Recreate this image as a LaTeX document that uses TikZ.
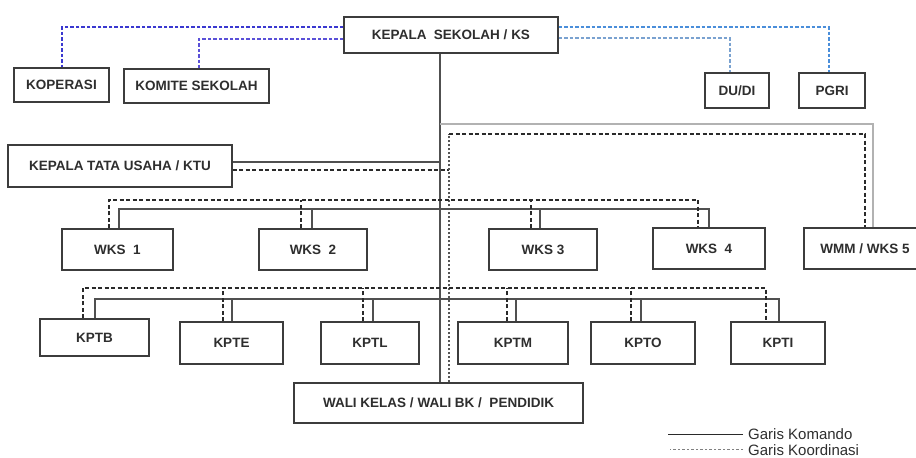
\documentclass[tikz,border=0pt]{standalone}
\usepackage{fontspec}
\setmainfont{Liberation Sans}
\definecolor{boxc}{HTML}{3C3C3C}
\definecolor{txt}{HTML}{2E2E2E}
\definecolor{linec}{HTML}{505050}
\definecolor{dashc}{HTML}{2A2A2A}
\definecolor{kopc}{HTML}{3A38D0}
\definecolor{komc}{HTML}{5A50D8}
\definecolor{rblc}{HTML}{4A8EDA}
\definecolor{rblcb}{HTML}{7AA2D0}
\begin{document}
\begin{tikzpicture}[x=1pt,y=-1pt,
  box/.style={draw=boxc, line width=1.3pt, fill=white, inner sep=0pt,
    font=\fontsize{13.5}{16}\selectfont\bfseries, text=txt},
  cmd/.style={draw=linec, line width=1.2pt},
  crd/.style={draw=dashc, line width=1.2pt, dash pattern=on 4pt off 2.5pt},
  dotl/.style={draw=dashc!80, line width=1.1pt, dash pattern=on 2pt off 2pt},
  bl/.style={line width=1.2pt, dash pattern=on 3.5pt off 2pt},
  legend/.style={inner sep=0pt, font=\fontsize{15}{17}\selectfont, text=txt}]
\useasboundingbox (0,0) rectangle (916,458);
\clip (0,0) rectangle (916,458);
% nodes
\node[box, minimum width=214pt, minimum height=36pt] (ks) at (451,35) {KEPALA\ \ SEKOLAH / KS};
\node[box, minimum width=95pt, minimum height=34pt] (kop) at (61.5,85) {KOPERASI};
\node[box, minimum width=145pt, minimum height=34pt] (kom) at (196.5,86) {KOMITE SEKOLAH};
\node[box, minimum width=64pt, minimum height=35pt] (dudi) at (737,90.5) {DU/DI};
\node[box, minimum width=66pt, minimum height=35pt] (pgri) at (832,90.5) {PGRI};
\node[box, minimum width=224pt, minimum height=42pt] (ktu) at (120,166) {KEPALA TATA USAHA / KTU};
\node[box, minimum width=111pt, minimum height=41pt] (wks1) at (117.5,249.5) {WKS\ \ 1};
\node[box, minimum width=108pt, minimum height=41pt] (wks2) at (313,249.5) {WKS\ \ 2};
\node[box, minimum width=108pt, minimum height=41pt] (wks3) at (543,249.5) {WKS 3};
\node[box, minimum width=112pt, minimum height=41pt] (wks4) at (709,248.5) {WKS\ \ 4};
\node[box, minimum width=130pt, minimum height=41pt, align=left] (wmm) at (869,248.5) {\hspace*{-8pt}WMM / WKS 5};
\node[box, minimum width=109pt, minimum height=37pt] (kptb) at (94.5,337.5) {KPTB};
\node[box, minimum width=103pt, minimum height=42pt] (kpte) at (231.5,343) {KPTE};
\node[box, minimum width=98pt, minimum height=42pt] (kptl) at (370,343) {KPTL};
\node[box, minimum width=110pt, minimum height=42pt] (kptm) at (513,343) {KPTM};
\node[box, minimum width=104pt, minimum height=42pt] (kpto) at (643,343) {KPTO};
\node[box, minimum width=94pt, minimum height=42pt] (kpti) at (778,343) {KPTI};
\node[box, minimum width=289pt, minimum height=40pt] (wali) at (438.5,403) {WALI KELAS / WALI BK /\ \ PENDIDIK};
% junction coordinates
\coordinate (trunk) at ([xshift=-11pt]ks.south);
\coordinate (dot) at (449,134);
\coordinate (sj) at (440,124);
\coordinate (wb) at (0,209);
\coordinate (wd) at (0,200);
\coordinate (kb) at (0,299);
\coordinate (kd) at (0,288);
% coordination lines to outside partners
\draw[bl, draw=kopc] ([yshift=8pt]ks.west) -| ([xshift=0.5pt]kop.north);
\draw[bl, draw=komc] ([yshift=-4pt]ks.west) -| ([xshift=2.5pt]kom.north);
\draw[bl, draw=rblc] ([yshift=8pt]ks.east) -| ([xshift=-3pt]pgri.north);
\draw[bl, draw=rblcb] ([yshift=-3pt]ks.east) -| ([xshift=-7pt]dudi.north);
% trunk
\draw[cmd] (trunk) -- (trunk |- wali.north);
% KTU
\draw[cmd] ([yshift=4pt]ktu.east) -- ([yshift=4pt]ktu.east -| trunk);
\draw[crd] ([yshift=-4pt]ktu.east) -- ([yshift=-4pt]ktu.east -| dot);
% WMM
\draw[cmd, draw=gray!60] (sj) -| ([xshift=4pt]wmm.north);
\draw[dotl] (dot |- wali.north) -- (dot);
\draw[crd] (dot) -| ([xshift=-4pt]wmm.north);
% WKS command bus
\draw[cmd] ([xshift=1.5pt]wks1.north) |- (wks4.north |- wb) -- (wks4.north);
\draw[cmd] ([xshift=-1pt]wks2.north) -- ([xshift=-1pt]wks2.north |- wb);
\draw[cmd] ([xshift=-3pt]wks3.north) -- ([xshift=-3pt]wks3.north |- wb);
% WKS coordination bus
\draw[crd] ([xshift=-8.5pt]wks1.north) |- ([xshift=-11pt]wks4.north |- wd) -- ([xshift=-11pt]wks4.north);
\draw[crd] ([xshift=-12pt]wks2.north) -- ([xshift=-12pt]wks2.north |- wd);
\draw[crd] ([xshift=-12pt]wks3.north) -- ([xshift=-12pt]wks3.north |- wd);
% KPT command bus
\draw[cmd] ([xshift=0.5pt]kptb.north) |- ([xshift=1pt]kpti.north |- kb) -- ([xshift=1pt]kpti.north);
\draw[cmd] ([xshift=0.5pt]kpte.north) -- ([xshift=0.5pt]kpte.north |- kb);
\draw[cmd] ([xshift=3pt]kptl.north) -- ([xshift=3pt]kptl.north |- kb);
\draw[cmd] ([xshift=3pt]kptm.north) -- ([xshift=3pt]kptm.north |- kb);
\draw[cmd] ([xshift=-2pt]kpto.north) -- ([xshift=-2pt]kpto.north |- kb);
% KPT coordination bus
\draw[crd] ([xshift=-11.5pt]kptb.north) |- ([xshift=-12pt]kpti.north |- kd) -- ([xshift=-12pt]kpti.north);
\draw[crd] ([xshift=-8.5pt]kpte.north) -- ([xshift=-8.5pt]kpte.north |- kd);
\draw[crd] ([xshift=-7pt]kptl.north) -- ([xshift=-7pt]kptl.north |- kd);
\draw[crd] ([xshift=-6pt]kptm.north) -- ([xshift=-6pt]kptm.north |- kd);
\draw[crd] ([xshift=-12pt]kpto.north) -- ([xshift=-12pt]kpto.north |- kd);
% legend
\node[legend, anchor=base west] (lk) at (748,439.5) {Garis Komando};
\node[legend, anchor=base west] (lc) at (748,455) {Garis Koordinasi};
\draw[cmd, draw=dashc] ([xshift=-5pt]lk.west) -- ++(-75,0);
\draw[draw=gray, line width=1pt, dash pattern=on 2.5pt off 2pt] ([xshift=-5pt]lc.west) -- ++(-73,0);
\end{tikzpicture}
\end{document}
